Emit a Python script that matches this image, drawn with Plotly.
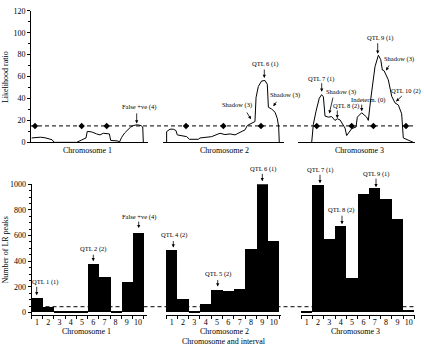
import plotly.graph_objects as go

W, H = 424, 350
FONT = "Liberation Serif"

# ---------------- top panel: likelihood-ratio profiles (position cM, LR) ----------------
chr1_pos = [0.6, 4, 8, 12, 15, 18, 19.7, 23.4, 24.8, 30.5, 31.9, 39.0, 43.3, 47.0, 48.1, 51.9,
            56.1, 59.0, 61.8, 65.2, 67.0, 68.1, 74.6, 75.5, 77.5, 80, 82, 85, 88, 91, 94, 95.5, 96.0]
chr1_lr = [4.0, 4.5, 4.7, 4.2, 3.6, 2.4, 0, 0, 0.6, 0.6, 0, 0, 2.2, 4.0, 10.0, 9.5,
           7.7, 6.8, 8.3, 8.3, 7.7, 1.8, 1.2, 0, 4.6, 8.5, 11, 13.8, 15.5, 16, 15.3, 14, 0]

chr2_pos = [3.0, 3.0, 5.8, 8.5, 10.7, 11.8, 19.6, 21.8, 29.2, 30.6, 40.2, 47.1, 51.2, 55.4, 59.5,
            65.0, 67.8, 69.7, 73.3, 76.0, 76.9, 78.8, 81.5, 84.3, 86.2, 87.1, 89.8, 92.6, 94.5,
            95.6, 96.1]
chr2_lr = [0, 9.8, 12, 12, 10.8, 6.8, 5.2, 2.8, 2.8, 4, 5.2, 8.3, 7.1, 7.7, 6.8,
           9.8, 11.4, 15.4, 17.5, 19, 41, 51, 56, 56.4, 53, 32, 30.4, 27.5, 21.5,
           14, 0]

chr3_pos = [11.7, 13.1, 15.4, 18.2, 20.2, 21.7, 23.1, 25.9, 28.8, 31.6, 33.6, 35.9, 40.2, 41.6,
            45.9, 49.6, 50.7, 54.4, 58.7, 60.1, 62.1, 65.8, 68.7, 70.7, 72.1, 73.5, 77.2, 80.1,
            82.9, 85.8, 88.6, 90.0, 98.6]
chr3_lr = [0, 16.4, 28.4, 40.3, 43.5, 41.5, 24, 23, 23.5, 20, 21.5, 20.5, 13, 6.2,
           12.5, 14, 23, 27, 23, 20, 39, 69, 79.5, 75.5, 66, 65.5, 57, 42,
           36, 34, 26, 4, 0]

chr1_markers = [3.4, 43.3, 64.7]
chr2_markers = [19.0, 49.9, 81.0]
chr3_markers = [16.0, 45.9, 64.4, 92.3]

lr_threshold = 15
lr_ticks = [0, 20, 40, 60, 80, 100, 120]

# ---------------- bottom panel: number of LR peaks per interval ----------------
intervals = [1, 2, 3, 4, 5, 6, 7, 8, 9, 10]
chr1_peaks = [114, 38, 5, 3, 10, 375, 273, 8, 233, 620]
chr2_peaks = [486, 101, 5, 63, 177, 162, 182, 491, 1000, 557]
chr3_peaks = [5, 992, 575, 676, 266, 919, 967, 886, 729, 18]
peaks_threshold = 45
peak_ticks = [0, 200, 400, 600, 800, 1000]

chr_names = ["Chromosome 1", "Chromosome 2", "Chromosome 3"]

# label annotations, page placement in pixels: (label, text x, text y, head x, head y, tail x, tail y)
notes = [
    ("False +ve (4)", 138.5, 106, 136.7, 122.7, 136.7, 111),
    ("QTL 6 (1)", 264.7, 61.7, 264.3, 76, 264.3, 66),
    ("Shadow (3)", 237, 103.3, 251, 118.3, 246, 110),
    ("Shadow (3)", 285, 93, 273.3, 105, 277.5, 99),
    ("QTL 7 (1)", 320.5, 76.7, 321.7, 90, 321.7, 80),
    ("Shadow (3)", 341.3, 90.7, 329.3, 112.3, 333.3, 95),
    ("QTL 8 (2)", 345.8, 105, 337.3, 117.3, 337.3, 108),
    ("Indeterm. (0)", 368, 98.3, 361.7, 110, 361.7, 102),
    ("QTL 9 (1)", 380, 35, 377.7, 51, 377.7, 39),
    ("Shadow (3)", 398.7, 56.7, 386, 68.3, 390, 61.7),
    ("QTL 10 (2)", 406, 89, 396, 100, 403.3, 93.3),
    ("QTL 1 (1)", 45, 285, 36.7, 299, 36.7, 289),
    ("QTL 2 (2)", 93, 251.7, 93.3, 264, 93.3, 256),
    ("False +ve (4)", 139, 218.3, 138.7, 230, 138.7, 222),
    ("QTL 4 (2)", 173.7, 237.3, 173.3, 250, 173.3, 242),
    ("QTL 5 (2)", 217.8, 277.3, 217.7, 290, 217.7, 282),
    ("QTL 6 (1)", 262.7, 169.3, 262.3, 182, 262.3, 173),
    ("QTL 7 (1)", 320, 170, 320, 184, 320, 174),
    ("QTL 8 (2)", 341, 211.7, 342, 226, 342, 216),
    ("QTL 9 (1)", 376, 174.3, 376, 188, 376, 178),
]


def fx(p):
    return p / W


def fy(p):
    return 1 - p / H


fig = go.Figure()
top_axes = ["x", "x2", "x3"]
bot_axes = ["x4", "x5", "x6"]

for xa, pos, lr in zip(top_axes, [chr1_pos, chr2_pos, chr3_pos], [chr1_lr, chr2_lr, chr3_lr]):
    fig.add_trace(go.Scatter(x=pos, y=lr, xaxis=xa, yaxis="y", mode="lines",
                             line=dict(color="black", width=1), hoverinfo="skip"))
for xa, mk in zip(top_axes, [chr1_markers, chr2_markers, chr3_markers]):
    fig.add_trace(go.Scatter(x=mk, y=[lr_threshold] * len(mk), xaxis=xa, yaxis="y", mode="markers",
                             marker=dict(symbol="diamond", size=5, color="black")))
for xa, vals in zip(bot_axes, [chr1_peaks, chr2_peaks, chr3_peaks]):
    fig.add_trace(go.Bar(x=intervals, y=vals, xaxis=xa, yaxis="y2", width=1,
                         marker=dict(color="black", line=dict(width=0))))

axis_common = dict(showgrid=False, zeroline=False, showline=True, linecolor="black", linewidth=1)
tickfont = dict(family=FONT, size=8, color="#000000")

top_dom = [(31, 148), (163, 284), (298, 415)]
bot_dom = [(31.5, 147), (166, 281), (301, 415)]
bot_rng = [(0.5, 10.8), (0.5, 10.65), (0.5, 10.55)]

layout_axes = {}
for i, (d0, d1) in enumerate(top_dom):
    name = "xaxis" if i == 0 else f"xaxis{i + 1}"
    layout_axes[name] = dict(axis_common, domain=[fx(d0), fx(d1)], range=[0, 100], anchor="y",
                             ticks="", showticklabels=False)
for i, ((d0, d1), rng) in enumerate(zip(bot_dom, bot_rng)):
    layout_axes[f"xaxis{i + 4}"] = dict(
        axis_common, domain=[fx(d0), fx(d1)], range=list(rng), anchor="y2",
        tickmode="array", tickvals=intervals, ticktext=[str(v) for v in intervals],
        ticks="", tickfont=tickfont,
        minor=dict(tickmode="linear", tick0=0.5, dtick=1, ticks="outside", ticklen=3,
                   tickcolor="black", tickwidth=1))

layout_axes["yaxis"] = dict(axis_common, domain=[fy(142), fy(7)], range=[0, 120], anchor="x",
                            tickmode="array", tickvals=lr_ticks, ticks="outside", ticklen=3,
                            tickcolor="black", tickfont=tickfont,
                            minor=dict(tickmode="linear", tick0=0, dtick=10, ticks="outside",
                                       ticklen=2, tickcolor="black"))
layout_axes["yaxis2"] = dict(axis_common, domain=[fy(319), fy(185)], range=[-18, 1000], anchor="x4",
                             tickmode="array", tickvals=peak_ticks, ticks="outside", ticklen=3,
                             tickcolor="black", tickfont=tickfont,
                             minor=dict(tickmode="linear", tick0=0, dtick=50, ticks="outside",
                                        ticklen=2, tickcolor="black"))

fig.update_layout(width=W, height=H, margin=dict(l=0, r=0, t=0, b=0),
                  paper_bgcolor="white", plot_bgcolor="white", showlegend=False,
                  bargap=0, font=dict(family=FONT, color="#000000"), **layout_axes)

fig.add_shape(type="line", xref="paper", yref="y", x0=fx(31), x1=fx(415),
              y0=lr_threshold, y1=lr_threshold, line=dict(color="black", width=1, dash="4px,3px"))
fig.add_shape(type="line", xref="paper", yref="y2", x0=fx(31.5), x1=fx(416),
              y0=peaks_threshold, y1=peaks_threshold, line=dict(color="black", width=1, dash="4px,3px"))

note_font = dict(family=FONT, size=6.5, color="#000000")
for label, tx, ty, hx, hy, sx, sy in notes:
    fig.add_annotation(xref="paper", yref="paper", x=fx(tx), y=fy(ty), text=label, showarrow=False,
                       font=note_font, xanchor="center", yanchor="middle")
    fig.add_annotation(xref="paper", yref="paper", x=fx(hx), y=fy(hy), text="", showarrow=True,
                       ax=sx - hx, ay=sy - hy, arrowhead=2, arrowsize=0.8, arrowwidth=0.8,
                       arrowcolor="black")

title_font = dict(family=FONT, size=8, color="#000000")
for name, cx in zip(chr_names, [87, 224, 359]):
    fig.add_annotation(xref="paper", yref="paper", x=fx(cx), y=fy(150), text=name,
                       showarrow=False, font=title_font, xanchor="center", yanchor="middle")
for name, cx in zip(chr_names, [86, 224, 355.5]):
    fig.add_annotation(xref="paper", yref="paper", x=fx(cx), y=fy(336), text=name,
                       showarrow=False, font=title_font, xanchor="center", yanchor="middle")
fig.add_annotation(xref="paper", yref="paper", x=fx(224), y=fy(346.5), text="Chromosome and interval",
                   showarrow=False, font=title_font, xanchor="center", yanchor="middle")
fig.add_annotation(xref="paper", yref="paper", x=fx(5), y=fy(75), text="Likelihood ratio",
                   textangle=-90, showarrow=False, font=title_font, xanchor="center", yanchor="middle")
fig.add_annotation(xref="paper", yref="paper", x=fx(5), y=fy(253), text="Number of LR peaks",
                   textangle=-90, showarrow=False, font=title_font, xanchor="center", yanchor="middle")

fig.write_html("out.html")
